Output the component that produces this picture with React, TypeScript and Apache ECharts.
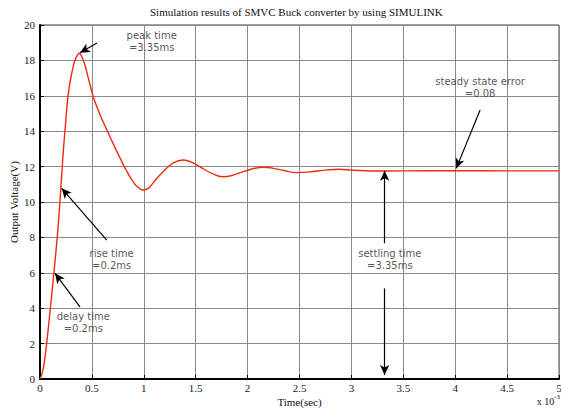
import React, { useEffect, useRef } from "react";
import * as echarts from "echarts";

// Time in ms (axis shown x 10^-3 sec), output voltage in V
const timeMs = [0, 0.02, 0.04, 0.064, 0.1, 0.134, 0.166, 0.192, 0.21, 0.225, 0.24, 0.27, 0.3, 0.336, 0.378, 0.4, 0.43, 0.47, 0.51, 0.58, 0.65, 0.72, 0.77, 0.83, 0.88, 0.93, 0.99, 1.05, 1.12, 1.2, 1.28, 1.38, 1.48, 1.58, 1.68, 1.76, 1.85, 1.95, 2.05, 2.15, 2.25, 2.35, 2.47, 2.6, 2.75, 2.88, 3.0, 3.2, 3.5, 4.0, 4.5, 5.0];
const voltage = [0, 0.3, 0.9, 2, 4, 6, 8, 10, 11.6, 12.9, 14, 16, 17.1, 18, 18.4, 18.25, 17.8, 16.9, 16, 14.9, 14, 13.1, 12.5, 11.8, 11.3, 10.9, 10.68, 10.8, 11.3, 11.8, 12.2, 12.37, 12.2, 11.85, 11.55, 11.43, 11.5, 11.7, 11.88, 11.96, 11.9, 11.78, 11.66, 11.7, 11.8, 11.85, 11.8, 11.75, 11.76, 11.77, 11.76, 11.76];

const xTicks = { min: 0, max: 5, interval: 0.5 };
const yTicks = { min: 0, max: 20, interval: 2 };

// Annotation texts: [x(ms), y(V), text]
const notes: [number, number, string][] = [
  [1.076, 19.07, "peak time\n=3.35ms"],
  [0.69, 6.75, "rise time\n=0.2ms"],
  [0.417, 3.22, "delay time\n=0.2ms"],
  [4.24, 16.47, "steady state error\n=0.08"],
  [3.37, 6.74, "settling time\n=3.35ms"],
];
// Arrows: [tailX, tailY, headX, headY]
const arrows: [number, number, number, number][] = [
  [0.549, 18.98, 0.385, 18.43],
  [0.643, 7.85, 0.209, 10.77],
  [0.385, 4.08, 0.145, 5.97],
  [4.24, 15.2, 4.01, 11.9],
  [3.32, 7.67, 3.32, 11.77],
  [3.32, 5.12, 3.32, 0.23],
];

const serif = '"Liberation Serif", "Times New Roman", serif';
const sans = '"DejaVu Sans", sans-serif';

export default function App() {
  const ref = useRef<HTMLDivElement>(null);
  useEffect(() => {
    if (!ref.current) return;
    const chart = echarts.init(ref.current, undefined, { renderer: "svg" });
    const lineData = timeMs.map((t, i) => [t, voltage[i]]);
    chart.setOption({
      animation: false,
      backgroundColor: "#fff",
      grid: {
        left: 40, right: 2, top: 25, bottom: 29,
        show: true, borderColor: "#444", borderWidth: 1,
        containLabel: false, outerBoundsMode: "none",
      },
      graphic: [
        {
          type: "text",
          left: 150,
          top: 6,
          style: { text: "Simulation results of SMVC Buck converter by using SIMULINK", font: `11px ${serif}`, fill: "#111", width: 300, align: "center" },
        },
        {
          type: "text",
          right: 1,
          top: 393,
          style: {
            text: "{a|x 10}{b|-3}",
            rich: {
              a: { fontFamily: serif, fontSize: 10, fill: "#111", padding: [5, 0, 0, 0] },
              b: { fontFamily: serif, fontSize: 7, fill: "#111", padding: [0, 0, 5, 0] },
            },
          },
        },
      ],
      xAxis: {
        type: "value",
        ...xTicks,
        name: "Time(sec)",
        nameLocation: "middle",
        nameGap: 17,
        nameMoveOverlap: false,
        nameTextStyle: { fontFamily: serif, fontSize: 11, color: "#111" },
        axisLine: { show: true, lineStyle: { color: "#000", width: 2 } },
        axisTick: { show: true, inside: true, length: 4, lineStyle: { color: "#000" } },
        axisLabel: { fontFamily: serif, fontSize: 11, color: "#222", margin: 3, formatter: (v: number) => String(v) },
        splitLine: { show: true, lineStyle: { color: "#8a8a8a", width: 1 } },
      },
      yAxis: {
        type: "value",
        ...yTicks,
        name: "Output Voltage(V)",
        nameLocation: "middle",
        nameGap: 26,
        nameMoveOverlap: false,
        nameTextStyle: { fontFamily: serif, fontSize: 11, color: "#111", verticalAlign: "middle" },
        axisLine: { show: true, lineStyle: { color: "#000", width: 2 } },
        axisTick: { show: true, inside: true, length: 4, lineStyle: { color: "#000" } },
        axisLabel: { fontFamily: serif, fontSize: 11, color: "#222", margin: 5 },
        splitLine: { show: true, lineStyle: { color: "#8a8a8a", width: 1 } },
      },
      series: [
        {
          type: "line",
          data: lineData,
          showSymbol: false,
          smooth: 0.25,
          lineStyle: { color: "#ee2a12", width: 1.4 },
          z: 3,
        },
        {
          type: "scatter",
          symbolSize: 0,
          itemStyle: { color: "#000" },
          data: notes.map(([x, y, t]) => ({
            value: [x, y],
            label: {
              show: true,
              position: "inside",
              formatter: t,
              fontFamily: sans,
              fontSize: 10,
              lineHeight: 12,
              color: "#2a2a2a",
              textBorderWidth: 0,
              textBorderColor: "transparent",
            },
          })),
          markLine: {
            silent: true,
            symbol: ["none", "arrow"],
            symbolSize: [7, 10],
            label: { show: false },
            lineStyle: { color: "#000", width: 1.2, type: "solid" },
            data: arrows.map(([x1, y1, x2, y2]) => [
              { coord: [x1, y1] },
              { coord: [x2, y2] },
            ]),
          },
          z: 5,
        },
      ],
    });
    return () => chart.dispose();
  }, []);
  return <div ref={ref} style={{ position: "fixed", left: 0, top: 0, width: 561, height: 408 }} />;
}
